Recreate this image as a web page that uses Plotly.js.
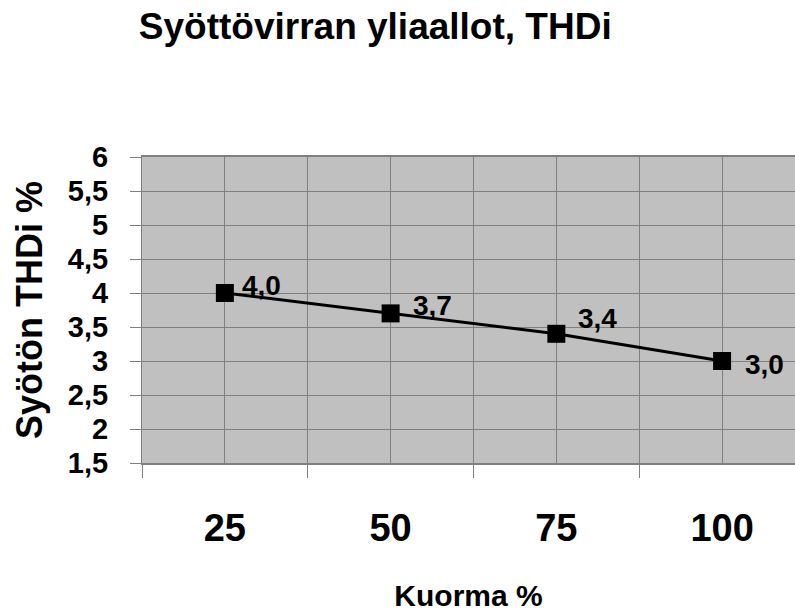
<!DOCTYPE html>
<html>
<head>
<meta charset="utf-8">
<script src="https://cdn.plot.ly/plotly-3.0.1.min.js"></script>
<style>html,body{margin:0;padding:0;background:#fff;}#chart{width:795px;height:612px;}</style>
</head>
<body>
<div id="chart"></div>
<script>
// Data
const loadPct = [25, 50, 75, 100];
const thdi = [4.0, 3.7, 3.4, 3.0];
const xTickLabels = ['25', '50', '75', '100'];
const chartTitle = 'Syöttövirran yliaallot, THDi';
const xTitle = 'Kuorma %';
const yTitle = 'Syötön THDi %';

// Label offsets (style only)
const labelShiftX = [15, 20, 20, 21];
const labelShiftY = [8, 8, 15, -3];

const FONT = 'Arial, "Liberation Sans", sans-serif';
const GRID = '#808080';

const annotations = loadPct.map((x, i) => ({
  x: x, y: thdi[i], xref: 'x', yref: 'y',
  text: thdi[i].toFixed(1).replace('.', ','),
  showarrow: false, xanchor: 'left', yanchor: 'middle',
  xshift: labelShiftX[i], yshift: labelShiftY[i],
  font: {family: FONT, size: 28, color: '#000', weight: 'bold'}
}));

const trace = {
  x: loadPct, y: thdi, type: 'scatter', mode: 'lines+markers',
  line: {color: '#000', width: 3},
  marker: {symbol: 'square', size: 18, color: '#000'},
  hoverinfo: 'skip'
};

const layout = {
  width: 795, height: 612,
  margin: {l: 142, r: 0, t: 157, b: 149},
  paper_bgcolor: '#fff', plot_bgcolor: '#c0c0c0',
  separators: ', ',
  showlegend: false,
  font: {family: FONT, color: '#000'},
  title: {
    text: chartTitle, xref: 'container', yref: 'container',
    x: 0.472, xanchor: 'center', y: 0.957, yanchor: 'middle',
    font: {family: FONT, size: 37, color: '#000', weight: 'bold'}
  },
  xaxis: {
    range: [12.5, 111], tickvals: loadPct, ticktext: xTickLabels,
    ticks: '', showgrid: true, gridcolor: GRID, gridwidth: 1,
    zeroline: false, showline: true, linecolor: GRID, linewidth: 2, mirror: true,
    tickfont: {family: FONT, size: 38, color: '#000', weight: 'bold'},
    ticklabelstandoff: 30,
    minor: {tick0: 12.5, dtick: 25, ticks: 'outside', ticklen: 13, tickcolor: GRID, tickwidth: 1,
            showgrid: true, gridcolor: GRID, gridwidth: 1},
    title: {text: xTitle, standoff: 50, font: {family: FONT, size: 30, color: '#000', weight: 'bold'}},
    fixedrange: true
  },
  yaxis: {
    range: [1.5, 6], dtick: 0.5, tick0: 1.5,
    ticks: 'outside', ticklen: 11, tickcolor: GRID, tickwidth: 1,
    showgrid: true, gridcolor: GRID, gridwidth: 1,
    zeroline: false, showline: true, linecolor: GRID, linewidth: 1, mirror: true,
    tickfont: {family: FONT, size: 29, color: '#000', weight: 'bold'},
    ticklabelstandoff: 16,
    title: {text: yTitle, standoff: 14, font: {family: FONT, size: 36, color: '#000', weight: 'bold'}},
    fixedrange: true
  },
  annotations: annotations
};

Plotly.newPlot('chart', [trace], layout, {displayModeBar: false, staticPlot: true});
</script>
</body>
</html>
